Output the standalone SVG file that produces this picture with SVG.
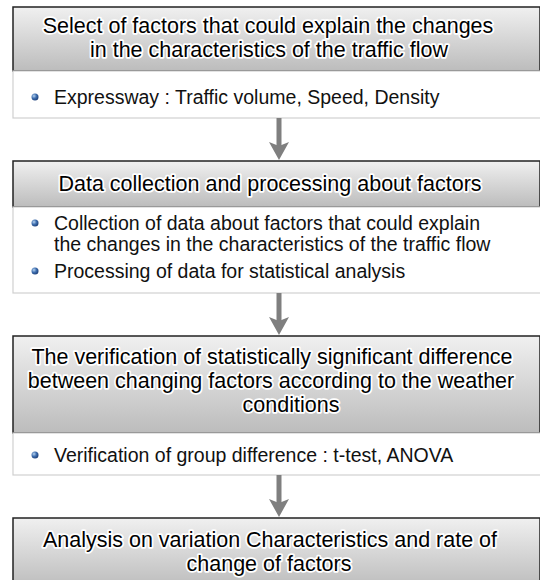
<svg xmlns="http://www.w3.org/2000/svg" width="540" height="580" viewBox="0 0 540 580">
<defs>
<linearGradient id="hdr" x1="0" y1="0" x2="0" y2="1">
<stop offset="0" stop-color="#f0f0f0"/>
<stop offset="1" stop-color="#bcbcbc"/>
</linearGradient>
<radialGradient id="ball" cx="0.35" cy="0.35" r="0.7">
<stop offset="0" stop-color="#b8d4f0"/>
<stop offset="0.5" stop-color="#3f6fb0"/>
<stop offset="1" stop-color="#1d3f78"/>
</radialGradient>
</defs>
<style>
.hdr{fill:url(#hdr);stroke:#222;stroke-width:1.5}
.sub{fill:#fff;stroke:#d0d0d0;stroke-width:1.2}
.ht{font-family:"Liberation Sans",Arial,sans-serif;font-size:21.5px;fill:#000;text-anchor:middle;stroke:#fff;stroke-width:3.5;stroke-linejoin:round;paint-order:stroke}
.bt{font-family:"Liberation Sans",Arial,sans-serif;font-size:19.5px;fill:#111}
.conn{stroke:#7f7f7f;stroke-width:5;fill:none}
.head{fill:#7f7f7f}
</style>
<g id="step1">
<rect class="hdr" x="13" y="7" width="527" height="64"/>
<text class="ht" x="268" y="33">Select of factors that could explain the changes</text>
<text class="ht" x="269" y="57">in the characteristics of the traffic flow</text>
</g>
<g id="detail1">
<rect class="sub" x="13" y="71" width="530" height="47"/>
<circle cx="35" cy="97" r="3.5" fill="url(#ball)"/>
<text class="bt" x="54" y="104">Expressway : Traffic volume, Speed, Density</text>
</g>
<g id="step2">
<rect class="hdr" x="13" y="161" width="527" height="46"/>
<text class="ht" x="270" y="191">Data collection and processing about factors</text>
</g>
<g id="detail2">
<rect class="sub" x="13" y="207" width="530" height="86"/>
<circle cx="35" cy="223" r="3.5" fill="url(#ball)"/>
<text class="bt" x="54" y="230">Collection of data about factors that could explain</text>
<text class="bt" x="54" y="251">the changes in the characteristics of the traffic flow</text>
<circle cx="35" cy="271" r="3.5" fill="url(#ball)"/>
<text class="bt" x="54" y="278">Processing of data for statistical analysis</text>
</g>
<g id="step3">
<rect class="hdr" x="13" y="336" width="527" height="97"/>
<text class="ht" x="272" y="364">The verification of statistically significant difference</text>
<text class="ht" x="271" y="388">between changing factors according to the weather</text>
<text class="ht" x="291" y="412">conditions</text>
</g>
<g id="detail3">
<rect class="sub" x="13" y="433" width="530" height="42"/>
<circle cx="35" cy="455" r="3.5" fill="url(#ball)"/>
<text class="bt" x="54" y="462">Verification of group difference : t-test, ANOVA</text>
</g>
<g id="step4">
<rect class="hdr" x="13" y="518" width="527" height="70"/>
<text class="ht" x="270" y="547">Analysis on variation Characteristics and rate of</text>
<text class="ht" x="269" y="571">change of factors</text>
</g>
<g id="connectors">
<line class="conn" x1="279" y1="118" x2="279" y2="146"/>
<path class="head" d="M269,142 L279,146 L289,142 L279,160 Z"/>
<line class="conn" x1="279" y1="293" x2="279" y2="321"/>
<path class="head" d="M269,317 L279,321 L289,317 L279,335 Z"/>
<line class="conn" x1="279" y1="475" x2="279" y2="503"/>
<path class="head" d="M269,499 L279,503 L289,499 L279,517 Z"/>
</g>
</svg>
